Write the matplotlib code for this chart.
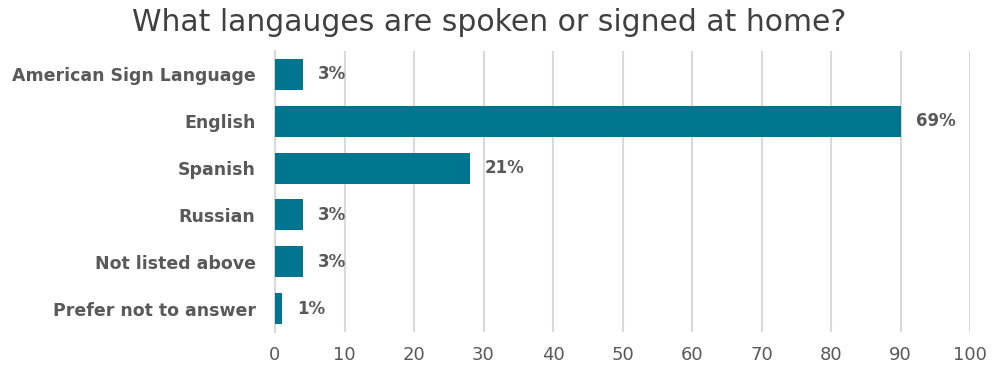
import matplotlib.pyplot as plt

categories = ["American Sign Language", "English", "Spanish", "Russian",
              "Not listed above", "Prefer not to answer"]
counts = [4, 90, 28, 4, 4, 1]
pct_labels = ["3%", "69%", "21%", "3%", "3%", "1%"]
xticks = [0, 10, 20, 30, 40, 50, 60, 70, 80, 90, 100]

bar_color = "#00758F"
text_color = "#595959"
grid_color = "#D9D9D9"

plt.rcParams["font.family"] = ["DejaVu Sans"]

fig = plt.figure(figsize=(9.98, 3.71), dpi=100)
ax = fig.add_axes([275 / 998, 1 - 332 / 371, 695 / 998, 281 / 371])

y = list(range(len(categories)))
ax.barh(y, counts, height=0.66, color=bar_color, zorder=3)
for yi, c, lab in zip(y, counts, pct_labels):
    ax.text(c + 2.2, yi, lab, va="center", ha="left", fontsize=12,
            fontweight="bold", color=text_color, zorder=4)

ax.set_ylim(len(categories) - 0.5, -0.5)
ax.set_xlim(0, 100)
ax.set_xticks(xticks)
ax.set_yticks(y)
ax.set_yticklabels(categories, fontsize=12.5, fontweight="bold", color=text_color)
ax.tick_params(axis="x", labelsize=13, colors=text_color, length=0, pad=10)
ax.tick_params(axis="y", length=0, pad=14)

ax.grid(axis="x", color=grid_color, linewidth=1.5, zorder=0)
for s in ["top", "right", "bottom"]:
    ax.spines[s].set_visible(False)
ax.spines["left"].set_color(grid_color)
ax.spines["left"].set_linewidth(1.5)

fig.suptitle("What langauges are spoken or signed at home?", fontsize=21.5,
             color="#404040", x=0.49, y=0.978, va="top")

fig.savefig("out.png", dpi=100)
